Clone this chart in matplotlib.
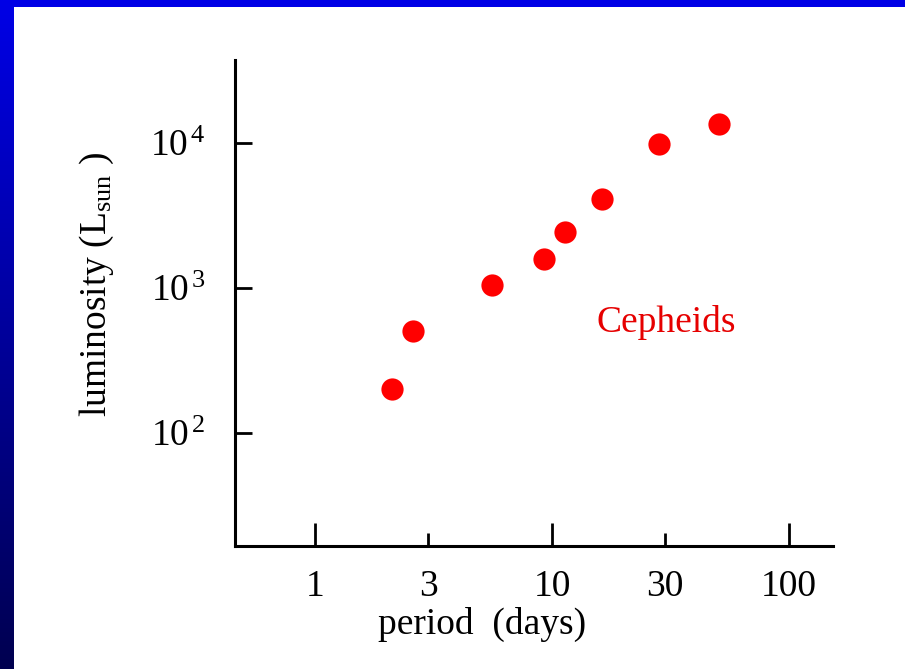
import numpy as np
import matplotlib
matplotlib.use("Agg")
import matplotlib.pyplot as plt
from matplotlib.ticker import FixedLocator, FixedFormatter

plt.rcParams['font.family'] = ['Liberation Serif', 'DejaVu Serif']
plt.rcParams['mathtext.fontset'] = 'custom'
plt.rcParams['mathtext.rm'] = 'Liberation Serif'
plt.rcParams['mathtext.it'] = 'Liberation Serif:italic'
plt.rcParams['mathtext.bf'] = 'Liberation Serif:bold'

# Data
period_days = [2.11, 2.59, 5.58, 9.25, 11.35, 16.3, 28.3, 50.7]
luminosity_lsun = [201, 505, 1050, 1585, 2430, 4110, 9840, 13530]

x_major_ticks = [1, 10, 100]
x_major_labels = ['1', '10', '100']
x_minor_ticks = [3, 30]
x_minor_labels = ['3', '30']
y_ticks = [1e2, 1e3, 1e4]
y_labels = [r'$\mathrm{10}^{\,2}$', r'$\mathrm{10}^{\,3}$', r'$\mathrm{10}^{\,4}$']

W, H = 905, 669
fig = plt.figure(figsize=(W / 100, H / 100), dpi=100)
fig.patch.set_facecolor('white')

# Blue frame decoration: top band and left gradient band
top_ax = fig.add_axes([0, 1 - 7 / H, 1, 7 / H])
top_ax.set_facecolor('#0000E6')
top_ax.set_axis_off()
top_ax.add_patch(plt.Rectangle((0, 0), 1, 1, transform=top_ax.transAxes,
                               color='#0000E6', lw=0))
left_ax = fig.add_axes([0, 0, 13 / W, 1])
grad = np.linspace(0, 1, 256).reshape(-1, 1)
from matplotlib.colors import LinearSegmentedColormap
cmap = LinearSegmentedColormap.from_list('bluegrad', ['#0000E6', '#000050'])
left_ax.imshow(grad, aspect='auto', cmap=cmap, extent=[0, 1, 1, 0])
left_ax.set_axis_off()

ax = fig.add_axes([235 / W, 123 / H, 598 / W, 486 / H])
ax.set_facecolor('white')
ax.plot(period_days, luminosity_lsun, 'o', color='#FF0000', markersize=16,
        markeredgewidth=0, clip_on=False)

ax.set_xscale('log')
ax.set_yscale('log')
ax.set_xlim(10 ** (-80 / 237), 10 ** (518 / 237))
ax.set_ylim(10 ** (2 - 113 / 145), 10 ** (4 + 83 / 145))

ax.xaxis.set_major_locator(FixedLocator(x_major_ticks))
ax.xaxis.set_major_formatter(FixedFormatter(x_major_labels))
ax.xaxis.set_minor_locator(FixedLocator(x_minor_ticks))
ax.xaxis.set_minor_formatter(FixedFormatter(x_minor_labels))
ax.yaxis.set_major_locator(FixedLocator(y_ticks))
ax.yaxis.set_major_formatter(FixedFormatter(y_labels))
ax.yaxis.set_minor_locator(FixedLocator([]))

for s in ['top', 'right']:
    ax.spines[s].set_visible(False)
for s in ['left', 'bottom']:
    ax.spines[s].set_linewidth(2.2)
    ax.spines[s].set_color('black')

ax.tick_params(axis='x', which='major', direction='in', length=16.5, width=2,
               pad=17, labelsize=27)
ax.tick_params(axis='x', which='minor', direction='in', length=9.5, width=2,
               pad=17, labelsize=27)
ax.tick_params(axis='y', which='major', direction='in', length=12.5, width=2,
               pad=21, labelsize=27)

ax.set_xlabel('period  (days)', fontsize=27, va='center', ha='center')
ax.xaxis.set_label_coords((482 - 235) / 598, (H - 624 - 123) / 486)
ax.set_ylabel(r'luminosity (L$_{\mathrm{sun}}$ )', fontsize=27,
              va='center', ha='center')
ax.yaxis.set_label_coords((97 - 235) / 598, (H - 284 - 123) / 486)

ax.text(30.3, 574, 'Cepheids', color='#E60000', fontsize=27,
        ha='center', va='center')

fig.savefig('out.png', dpi=100, facecolor='white')
